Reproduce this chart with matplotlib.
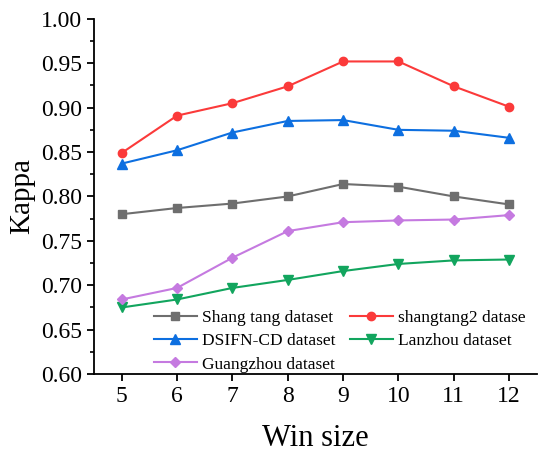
import numpy as np
import matplotlib
matplotlib.use("Agg")
import matplotlib.pyplot as plt
from matplotlib.ticker import MultipleLocator

plt.rcParams['font.family'] = ['Liberation Serif', 'DejaVu Serif']

# data
win_size = [5, 6, 7, 8, 9, 10, 11, 12]
shangtang = [0.780, 0.787, 0.792, 0.800, 0.814, 0.811, 0.800, 0.791]
shangtang2 = [0.849, 0.891, 0.905, 0.924, 0.952, 0.952, 0.924, 0.901]
dsifn = [0.837, 0.852, 0.872, 0.885, 0.886, 0.875, 0.874, 0.866]
lanzhou = [0.675, 0.684, 0.697, 0.706, 0.716, 0.724, 0.728, 0.729]
guangzhou = [0.684, 0.697, 0.731, 0.761, 0.771, 0.773, 0.774, 0.779]

labels = ["Shang tang dataset", "shangtang2 datase", "DSIFN-CD dataset",
          "Lanzhou dataset", "Guangzhou dataset"]

fig = plt.figure(figsize=(5.5, 4.59), dpi=100)
ax = fig.add_axes([0.171, 0.185, 0.805, 0.774])

lw = 1.5
l1, = ax.plot(win_size, shangtang, color="#6e6e6e", marker="s", ms=5.5, lw=lw)
l2, = ax.plot(win_size, shangtang2, color="#fb3a3a", marker="o", ms=6, lw=lw)
l3, = ax.plot(win_size, dsifn, color="#0d6fe0", marker="^", ms=7, lw=lw)
l4, = ax.plot(win_size, lanzhou, color="#12a55e", marker="v", ms=7, lw=lw)
l5, = ax.plot(win_size, guangzhou, color="#c57ae0", marker="D", ms=5.5, lw=lw)

ax.set_xlim(4.5, 12.5)
ax.set_ylim(0.60, 1.00)
ax.set_xticks(win_size)
ax.yaxis.set_major_locator(MultipleLocator(0.05))
ax.yaxis.set_minor_locator(MultipleLocator(0.025))
ax.yaxis.set_major_formatter(plt.FormatStrFormatter('%.2f'))

for s in ['top', 'right']:
    ax.spines[s].set_visible(False)
for s in ['left', 'bottom']:
    ax.spines[s].set_linewidth(1.3)

ax.tick_params(axis='both', which='major', direction='out', length=5, width=1.3,
               labelsize=17)
ax.tick_params(axis='y', which='minor', direction='out', length=3, width=1.2)

ax.set_xlabel("Win size", fontsize=22, labelpad=12)
ax.set_ylabel("Kappa", fontsize=21, labelpad=4)

# legend is filled column by column, so reorder to get the row layout
handles = [l1, l3, l5, l2, l4]
order = [0, 2, 4, 1, 3]
fig.legend(handles, [labels[i] for i in order], loc='center',
           bbox_to_anchor=(0.618, 0.257),
           ncol=2, frameon=False, fontsize=12.5, handlelength=2.5, handletextpad=0.3,
           columnspacing=0.8, labelspacing=0.42, borderpad=0)

fig.savefig("out.png", dpi=100)
